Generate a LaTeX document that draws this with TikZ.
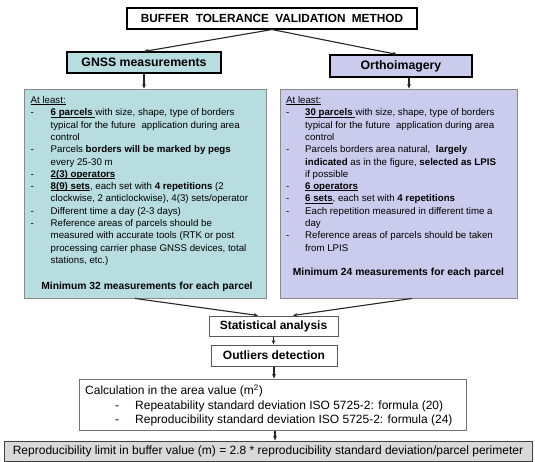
\documentclass[tikz,border=0pt]{standalone}
\usepackage{fontspec}
\setmainfont{Liberation Sans}
\usetikzlibrary{arrows.meta}
\definecolor{tealfill}{HTML}{B7DDE0}
\definecolor{lavfill}{HTML}{CBCBEE}
\definecolor{greyfill}{HTML}{D9D9D9}
\definecolor{boxline}{HTML}{8A8A8A}
\newcommand\bodyfont{\fontsize{9.7}{12.3}\selectfont}
\newcommand\dashit{\makebox[20pt][l]{-}}
\newcommand\contit{\hspace*{20pt}}
\newcommand\dashitr{\makebox[19pt][l]{-}}
\newcommand\contitr{\hspace*{19pt}}
\newsavebox\myulbox
\newcommand\myul[1]{\sbox\myulbox{#1}\rlap{\rule[-1.3pt]{\wd\myulbox}{0.6pt}}\usebox\myulbox}
\begin{document}
\begin{tikzpicture}[x=1pt,y=-1pt,
  arr/.style={draw=black!85, line width=1.1pt, -{Stealth[length=4.5pt,width=3.8pt]}},
  headbox/.style={draw=black, line width=1.1pt, inner sep=0pt, font=\bfseries\fontsize{12.3}{14}\selectfont},
  bigbox/.style={draw=boxline, line width=0.9pt, inner sep=0pt},
  stepbox/.style={draw=black!65, line width=1pt, inner sep=0pt, font=\bfseries\fontsize{12}{14}\selectfont},
  txt/.style={inner sep=0pt, anchor=north west, align=left, font=\bodyfont}
]
\useasboundingbox (0,0) rectangle (535,462);

% top boxes
\node[headbox, minimum width=290pt, minimum height=21pt, font=\bfseries\fontsize{11.8}{13}\selectfont] (title) at (272,18.5)
  {BUFFER\hspace{7pt}TOLERANCE\hspace{3pt} VALIDATION\hspace{3pt} METHOD};
\node[headbox, fill=tealfill, minimum width=154pt, minimum height=21pt] (gnss) at (144,62.5) {GNSS measurements};
\node[headbox, fill=lavfill, minimum width=142pt, minimum height=22pt] (ortho) at (401,66) {Orthoimagery};

% big boxes
\node[bigbox, fill=tealfill, minimum width=242pt, minimum height=209pt] (lbox) at (145,193.5) {};
\node[bigbox, fill=lavfill, minimum width=237pt, minimum height=209pt] (rbox) at (398.5,193.5) {};

\node[txt] (ltext) at (30.5,94.7) {\strut\myul{At least:}\\
\dashit\myul{\textbf{6 parcels }}with size, shape, type of borders\\
\contit typical for the future\hspace{3pt} application during area\\
\contit control\\
\dashit Parcels \textbf{borders will be marked by pegs}\\
\contit every 25-30 m\\
\dashit\myul{\textbf{2(3) operators}}\\
\dashit\myul{\textbf{8(9) sets}}, each set with \textbf{4 repetitions} (2\\
\contit clockwise, 2 anticlockwise), 4(3) sets/operator\\
\dashit Different time a day (2-3 days)\\
\dashit Reference areas of parcels should be\\
\contit measured with accurate tools (RTK or post\\
\contit processing carrier phase GNSS devices, total\\
\contit stations, etc.)};
\node[inner sep=0pt, anchor=base, font=\bfseries\fontsize{10.3}{12}\selectfont] (lmin) at (147,289.5) {Minimum 32 measurements for each parcel};

\node[txt] (rtext) at (286,94.7) {\strut\myul{At least:}\\
\dashitr\myul{\textbf{30 parcels }}with size, shape, type of borders\\
\contitr typical for the future\hspace{3pt} application during area\\
\contitr control\\
\dashitr Parcels borders area natural,\hspace{3pt} \textbf{largely}\\
\contitr\textbf{indicated} as in the figure, \textbf{selected as LPIS}\\
\contitr if possible\\
\dashitr\myul{\textbf{6 operators}}\\
\dashitr\myul{\textbf{6 sets}}, each set with \textbf{4 repetitions}\\
\dashitr Each repetition measured in different time a\\
\contitr day\\
\dashitr Reference areas of parcels should be taken\\
\contitr from LPIS};
\node[inner sep=0pt, anchor=base, font=\bfseries\fontsize{10.3}{12}\selectfont] (rmin) at (398.5,276) {Minimum 24 measurements for each parcel};

% lower chain
\node[stepbox, fill=white, minimum width=129pt, minimum height=20pt] (stat) at (273.5,326) {Statistical analysis};
\node[stepbox, fill=white, minimum width=126pt, minimum height=21pt] (outl) at (274,355.5) {Outliers detection};
\node[draw=black!55, line width=1pt, inner sep=0pt, minimum width=387pt, minimum height=51pt] (calc) at (272.5,404.5) {};
\node[inner sep=0pt, anchor=north west, align=left, font=\fontsize{12}{14.5}\selectfont] (calctext) at (85,384.3)
  {\strut Calculation in the area value (m\textsuperscript{2})\\
   \hspace*{30pt}\makebox[20pt][l]{-}Repeatability standard deviation ISO 5725-2: formula (20)\\
   \hspace*{30pt}\makebox[20pt][l]{-}Reproducibility standard deviation ISO 5725-2: formula (24)};
\node[draw=black!75, line width=1pt, fill=greyfill, inner sep=0pt, minimum width=528pt, minimum height=20pt, font=\fontsize{12}{14}\selectfont] (final) at (268,451)
  {Reproducibility limit in buffer value (m) = 2.8 * reproducibility standard deviation/parcel perimeter};

% connectors
\draw[arr] (title.south) -- (gnss.north);
\draw[arr] (title.south) -- ([xshift=-4pt]ortho.north);
\draw[arr] (gnss.south) -- (gnss.south |- lbox.north);
\draw[arr] ([xshift=8pt]ortho.south) -- ([xshift=8pt]ortho.south |- rbox.north);
\draw[arr] ([xshift=-10pt]lbox.south) -- ([xshift=-15.5pt]stat.north);
\draw[arr] ([xshift=13.5pt]rbox.south) -- ([xshift=19.5pt]stat.north);
\draw[arr] (stat.south) -- (stat.south |- outl.north);
\draw[arr] (outl.south) -- (outl.south |- calc.north);
\draw[arr] ([xshift=2.5pt]calc.south) -- ([xshift=2.5pt]calc.south |- final.north);
\end{tikzpicture}
\end{document}
